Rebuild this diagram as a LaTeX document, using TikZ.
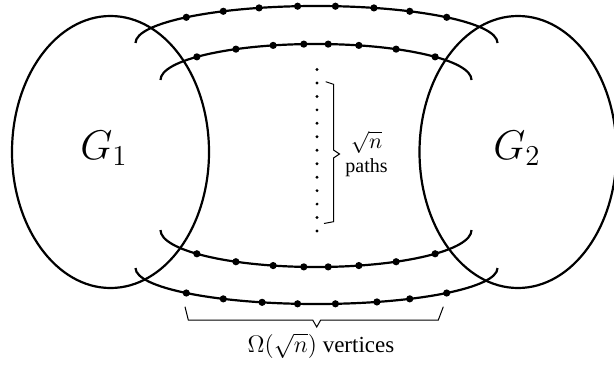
\documentclass[tikz,border=0pt]{standalone}
\usepackage{amsmath}
\usepackage{fontspec}
\setmainfont{Liberation Serif}
\usetikzlibrary{shapes.geometric}

\begin{document}
\begin{tikzpicture}[
  x=0.5pt, y=0.5pt,
  graph/.style={draw, ellipse, line width=1.1pt, inner sep=0pt,
               minimum width=98.5pt, minimum height=136pt},
  glabel/.style={font=\fontsize{20}{24}\selectfont, inner sep=0pt},
  route/.style={line width=1.1pt},
  vtx/.style={circle, fill, inner sep=0pt, minimum size=3.6pt},
  gap/.style={circle, fill, inner sep=0pt, minimum size=1.6pt},
  brc/.style={line width=0.5pt},
  lbl/.style={inner sep=0pt, align=center}
]
\useasboundingbox (0,0) rectangle (614,365);

% the two halves
\node[graph] (g1) at (110.5,213) {};
\node[graph] (g2) at (518,213) {};
\node[glabel] (g1name) at (104,217) {$G_1$};
\node[glabel] (g2name) at (517,217) {$G_2$};

% centres of the four paths
\coordinate (topout) at (316.5,322);
\coordinate (topin)  at (316,285);
\coordinate (botin)  at (316,135);
\coordinate (botout) at (316.5,97);

\draw[route] ([shift={(180:181 and 37)}]topout) arc[start angle=180, end angle=0, x radius=181, y radius=37];
\draw[route] ([shift={(180:155.5 and 36)}]topin) arc[start angle=180, end angle=0, x radius=155.5, y radius=36];
\draw[route] ([shift={(180:155.5 and 37)}]botin) arc[start angle=180, end angle=360, x radius=155.5, y radius=37];
\draw[route] ([shift={(180:181 and 36)}]botout) arc[start angle=180, end angle=360, x radius=181, y radius=36];

\foreach \t [count=\i] in {136,121,108.5,96,84,71.5,59,44}
  \node[vtx] (to\i) at ([shift={(\t:181 and 37)}]topout) {};
\foreach \t [count=\i] in {140,121,106,94.5,85.5,74,59,40}
  \node[vtx] (ti\i) at ([shift={(\t:155.5 and 36)}]topin) {};
\foreach \t [count=\i] in {140,121,106,94.5,85.5,74,59,40}
  \node[vtx] (bi\i) at ([shift={(-\t:155.5 and 37)}]botin) {};
\foreach \t [count=\i] in {136,121,107.5,96,84,70.5,59,44}
  \node[vtx] (bo\i) at ([shift={(-\t:181 and 36)}]botout) {};

% the paths that are left out
\foreach \i in {0,...,12}
  \node[gap] (dot\i) at (317,295.5-13.46*\i) {};

% braces
\draw[brc] (325.7,283.3) -- (333.5,280.7) -- (333.5,215) -- (339.5,211)
  -- (333.5,207) -- (333.5,143.3) -- (324,141.5);
\node[lbl, anchor=west] (count) at (345,211) {\fontsize{10.5}{11}\selectfont$\sqrt{n}$\\paths};

\draw[brc] (185,58.3) -- (188.3,45) -- (312.7,45) -- (316.7,38)
  -- (320.7,45) -- (438.3,45) -- (443.3,58.3);
\node[lbl] (length) at (321,19) {\fontsize{11.5}{13}\selectfont$\Omega(\sqrt{n})$ vertices};
\end{tikzpicture}
\end{document}
